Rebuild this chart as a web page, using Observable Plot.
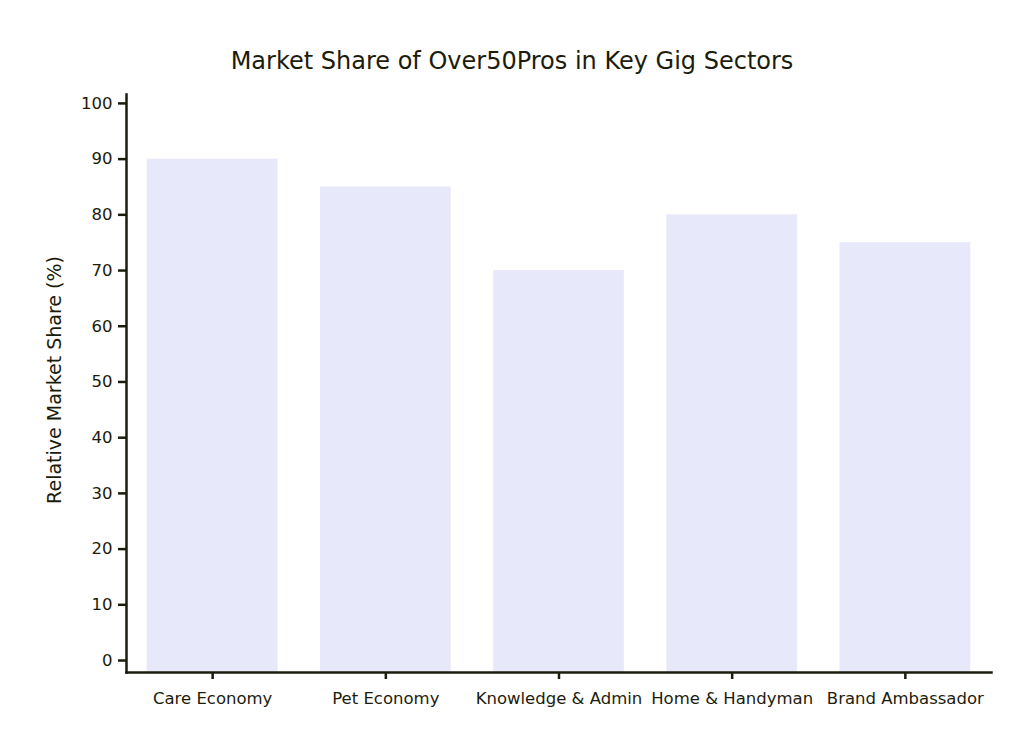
<!DOCTYPE html>
<html>
<head>
<meta charset="utf-8">
<script src="https://cdn.jsdelivr.net/npm/d3@7"></script>
<script src="https://cdn.jsdelivr.net/npm/@observablehq/plot@0.6"></script>
<style>
  html, body { margin: 0; padding: 0; background: #ffffff; }
  #chart { width: 1024px; height: 751px; position: relative; }
  #title {
    height: 80px; box-sizing: border-box; padding-top: 46px;
    text-align: center; font-family: "DejaVu Sans", sans-serif;
    font-size: 24px; line-height: 30px; color: #1c1c0c;
  }
  svg { display: block; }
</style>
</head>
<body>
<div id="chart">
  <div id="title">Market Share of Over50Pros in Key Gig Sectors</div>
</div>
<script>
// Sectors and the relative market share held in each
const sectors = ["Care Economy", "Pet Economy", "Knowledge & Admin", "Home & Handyman", "Brand Ambassador"];
const shares = [90, 85, 70, 80, 75];
const yTicks = [0, 10, 20, 30, 40, 50, 60, 70, 80, 90, 100];

const rows = sectors.map((sector, i) => ({sector, share: shares[i]}));
const yMin = -2.15, yMax = 101.6;
const ink = "#1c1c0c";

const plot = Plot.plot({
  width: 1024,
  height: 671,
  marginTop: 14,
  marginBottom: 79,
  marginLeft: 126,
  marginRight: 33,
  style: {fontFamily: "DejaVu Sans, sans-serif", color: ink, background: "#ffffff"},
  x: {domain: sectors, paddingInner: 0.245, paddingOuter: 0.12, round: false, label: null},
  y: {domain: [yMin, yMax], label: null},
  marks: [
    Plot.barY(rows, {x: "sector", y1: yMin, y2: "share", fill: "#e8e8fb"}),
    Plot.axisX({tickSize: 7, tickPadding: 13, strokeWidth: 2.5, fontSize: 16.5, label: null}),
    Plot.axisY({ticks: yTicks, tickSize: 8, tickPadding: 6, strokeWidth: 2.5, fontSize: 16.5, label: null}),
    Plot.frame({anchor: "left", stroke: ink, strokeWidth: 2.5}),
    Plot.frame({anchor: "bottom", stroke: ink, strokeWidth: 2.5})
  ]
});
document.getElementById("chart").appendChild(plot);

// Rotated y-axis title
const svg = d3.select(plot);
svg.append("text")
  .attr("transform", `translate(55, ${380 - 80}) rotate(-90)`)
  .attr("text-anchor", "middle")
  .attr("dominant-baseline", "middle")
  .attr("font-family", "DejaVu Sans, sans-serif")
  .attr("font-size", 19)
  .attr("fill", ink)
  .text("Relative Market Share (%)");
</script>
</body>
</html>
